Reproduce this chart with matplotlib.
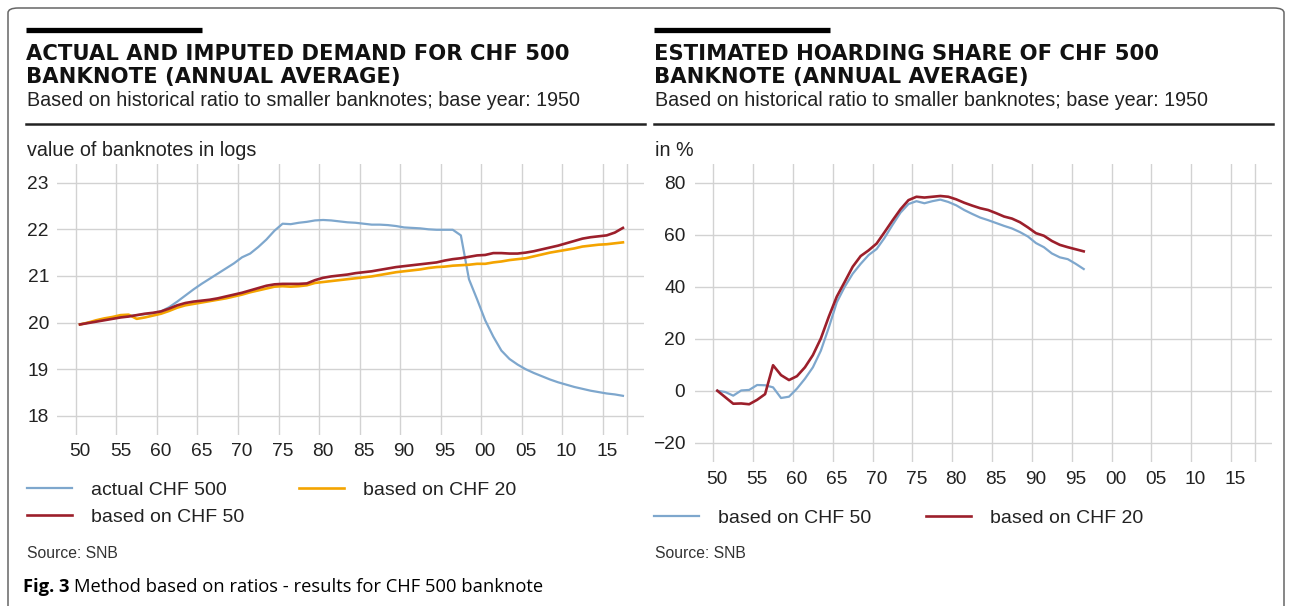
import matplotlib
matplotlib.use("Agg")
import numpy as np
from matplotlib import pyplot as plt
from matplotlib.lines import Line2D
from matplotlib.patches import FancyBboxPatch

plt.rcParams['font.family'] = ['Liberation Sans', 'DejaVu Sans']

#%% data
years_left = np.arange(1950, 2018)
actual_500 = [19.96, 20.00, 20.03, 20.06, 20.09, 20.12, 20.14, 20.16, 20.18, 20.20,
              20.24, 20.33, 20.45, 20.58, 20.71, 20.83, 20.94, 21.05, 21.16, 21.27,
              21.40, 21.48, 21.62, 21.78, 21.97, 22.12, 22.11, 22.14, 22.16, 22.19,
              22.20, 22.19, 22.17, 22.15, 22.14, 22.12, 22.10, 22.10, 22.09, 22.07,
              22.04, 22.03, 22.02, 22.00, 21.99, 21.99, 21.99, 21.87, 20.93, 20.50,
              20.05, 19.70, 19.40, 19.22, 19.10, 19.00, 18.92, 18.85, 18.78, 18.72,
              18.67, 18.62, 18.58, 18.54, 18.51, 18.48, 18.46, 18.43]
based_50 = [19.96, 19.99, 20.02, 20.05, 20.08, 20.11, 20.13, 20.16, 20.19, 20.21,
            20.24, 20.30, 20.37, 20.42, 20.45, 20.47, 20.49, 20.52, 20.56, 20.60,
            20.64, 20.69, 20.74, 20.79, 20.82, 20.83, 20.83, 20.83, 20.84, 20.91,
            20.96, 20.99, 21.01, 21.03, 21.06, 21.08, 21.10, 21.13, 21.16, 21.19,
            21.21, 21.23, 21.25, 21.27, 21.29, 21.33, 21.36, 21.38, 21.41, 21.44,
            21.45, 21.49, 21.49, 21.48, 21.48, 21.50, 21.53, 21.57, 21.61, 21.65,
            21.70, 21.75, 21.80, 21.83, 21.85, 21.87, 21.93, 22.03]
based_20 = [19.96, 20.00, 20.05, 20.09, 20.12, 20.16, 20.17, 20.08, 20.11, 20.15,
            20.19, 20.25, 20.32, 20.37, 20.40, 20.43, 20.46, 20.49, 20.52, 20.56,
            20.60, 20.65, 20.69, 20.73, 20.77, 20.78, 20.77, 20.78, 20.80, 20.85,
            20.87, 20.89, 20.91, 20.93, 20.95, 20.97, 20.99, 21.02, 21.05, 21.08,
            21.10, 21.12, 21.14, 21.17, 21.19, 21.20, 21.22, 21.23, 21.24, 21.26,
            21.26, 21.29, 21.31, 21.34, 21.36, 21.38, 21.42, 21.46, 21.50, 21.53,
            21.56, 21.59, 21.63, 21.65, 21.67, 21.68, 21.70, 21.72]

years_right = np.arange(1950, 1997)
hoard_50 = [0.0, -0.5, -1.9, 0.1, 0.3, 2.2, 2.1, 1.3, -2.8, -2.3,
            0.8, 4.6, 9.0, 15.4, 24.3, 34.0, 40.0, 45.0, 48.8, 52.2,
            54.5, 58.8, 63.8, 68.5, 71.8, 72.9, 72.1, 72.9, 73.5, 72.6,
            71.3, 69.5, 68.0, 66.6, 65.6, 64.5, 63.4, 62.4, 61.0, 59.3,
            56.8, 55.2, 52.8, 51.3, 50.6, 48.8, 46.8]
hoard_20 = [0.0, -2.5, -5.0, -4.9, -5.2, -3.5, -1.3, 9.8, 6.0, 4.1,
            5.6, 9.0, 13.7, 20.1, 28.5, 36.2, 41.9, 47.7, 51.8, 54.0,
            56.6, 61.0, 65.5, 69.8, 73.3, 74.6, 74.3, 74.6, 74.9, 74.6,
            73.6, 72.3, 71.2, 70.2, 69.5, 68.3, 67.0, 66.2, 64.8, 62.8,
            60.6, 59.6, 57.6, 56.1, 55.2, 54.4, 53.6]

year_ticks = list(range(1950, 2020, 5))
year_labels = ['50', '55', '60', '65', '70', '75', '80', '85', '90', '95', '00', '05', '10', '15']

BLUE = '#7ea7cd'
RED = '#9c1f2b'
ORANGE = '#f4a400'
GRID = '#d2d2d2'
TEXT = '#222222'

W, H = 1289, 606


def fx(px):
    return px / W


def fy(py):
    return 1 - py / H


def style_axes(ax, ylim, yticks, ylabels, xpad, ypad):
    """common grid / tick look for both panels"""
    ax.set_xlim(1947.7, 2020.1)
    ax.set_ylim(*ylim)
    # gridlines at the year marks, labels at mid-year
    ax.set_xticks(year_ticks + [2018])
    ax.set_xticklabels([])
    ax.set_xticks([y + 0.5 for y in year_ticks], minor=True)
    ax.set_xticklabels(year_labels, minor=True)
    ax.set_yticks(yticks)
    ax.set_yticklabels(ylabels)
    ax.grid(True, color=GRID, linewidth=1.0)
    ax.set_axisbelow(True)
    for s in ax.spines.values():
        s.set_visible(False)
    ax.tick_params(axis='both', which='both', length=0, labelsize=13.8, colors=TEXT)
    ax.tick_params(axis='x', which='minor', pad=xpad)
    ax.tick_params(axis='y', pad=ypad)


fig = plt.figure(figsize=(W / 100, H / 100), dpi=100)

#%% left panel
ax1 = fig.add_axes([fx(57.3), fy(435), fx(644) - fx(57.3), (435 - 164) / H])
style_axes(ax1, (17.59, 23.4), [18, 19, 20, 21, 22, 23], ['18', '19', '20', '21', '22', '23'], 5.5, 6)
x_left = years_left + 0.5
l_act, = ax1.plot(x_left, actual_500, color=BLUE, lw=1.6, label='actual CHF 500')
l_20, = ax1.plot(x_left, based_20, color=ORANGE, lw=1.9, label='based on CHF 20')
l_50, = ax1.plot(x_left, based_50, color=RED, lw=1.9, label='based on CHF 50')

leg1 = ax1.legend(handles=[l_act, l_50, l_20], ncol=2, loc='upper left',
                  bbox_to_anchor=(fx(27), fy(481)), bbox_transform=fig.transFigure,
                  frameon=False, fontsize=14, handlelength=2.3, handletextpad=1.0,
                  columnspacing=2.8, labelspacing=0.5, borderpad=0, borderaxespad=0)
for t in leg1.get_texts():
    t.set_color(TEXT)

#%% right panel
ax2 = fig.add_axes([fx(695), fy(461.7), fx(1271.7) - fx(695), (461.7 - 164) / H])
style_axes(ax2, (-27.3, 87.2), [-20, 0, 20, 40, 60, 80], ['\u221220', '0', '20', '40', '60', '80'], 7, 7)
x_right = years_right + 0.5
r_50, = ax2.plot(x_right, hoard_50, color=BLUE, lw=1.6, label='based on CHF 50')
r_20, = ax2.plot(x_right, hoard_20, color=RED, lw=1.9, label='based on CHF 20')

leg2 = ax2.legend(handles=[r_50, r_20], ncol=2, loc='upper left',
                  bbox_to_anchor=(fx(654), fy(509)), bbox_transform=fig.transFigure,
                  frameon=False, fontsize=14, handlelength=2.3, handletextpad=1.0,
                  columnspacing=2.8, borderpad=0, borderaxespad=0)
for t in leg2.get_texts():
    t.set_color(TEXT)

#%% headers
titles = [(26, ['ACTUAL AND IMPUTED DEMAND FOR CHF 500', 'BANKNOTE (ANNUAL AVERAGE)'], 'value of banknotes in logs'),
          (654, ['ESTIMATED HOARDING SHARE OF CHF 500', 'BANKNOTE (ANNUAL AVERAGE)'], 'in %')]
for x0, lines, unit in titles:
    # thick black bar above the title
    fig.add_artist(Line2D([fx(x0), fx(x0 + 176)], [fy(29.5), fy(29.5)], color='black', lw=3.8,
                          solid_capstyle='butt'))
    fig.text(fx(x0), fy(53.5), lines[0], fontsize=15.2, fontweight='bold', family='DejaVu Sans',
             color='#111111', va='center')
    fig.text(fx(x0), fy(77), lines[1], fontsize=15.2, fontweight='bold', family='DejaVu Sans',
             color='#111111', va='center')
    fig.text(fx(x0 + 1), fy(101), 'Based on historical ratio to smaller banknotes; base year: 1950',
             fontsize=14.2, color=TEXT, va='center')
    fig.add_artist(Line2D([fx(x0), fx(x0 + 619)], [fy(124), fy(124)], color='#222222', lw=1.8))
    fig.text(fx(x0 + 1), fy(150), unit, fontsize=14.2, color=TEXT, va='center')
    fig.text(fx(x0 + 1), fy(553), 'Source: SNB', fontsize=11.3, color='#333333', va='center')

# outer frame with rounded corners (bottom edge below the figure)
frame = FancyBboxPatch((fx(8), fy(640)), fx(1276), fy(8) - fy(640),
                       boxstyle='round,pad=0,rounding_size=0.008', transform=fig.transFigure,
                       fill=False, edgecolor='#666666', lw=1.1)
fig.add_artist(frame)

# caption
cap_bold = fig.text(fx(23), fy(587), 'Fig. 3', fontsize=13.2, fontweight='bold',
                    family='Open Sans', va='center', color='black')
fig.canvas.draw()
bb = cap_bold.get_window_extent()
fig.text(bb.x1 / W + fx(4), fy(587), 'Method based on ratios - results for CHF 500 banknote',
         fontsize=13.2, family='Open Sans', va='center', color='black')

fig.savefig('out.png', dpi=100)
